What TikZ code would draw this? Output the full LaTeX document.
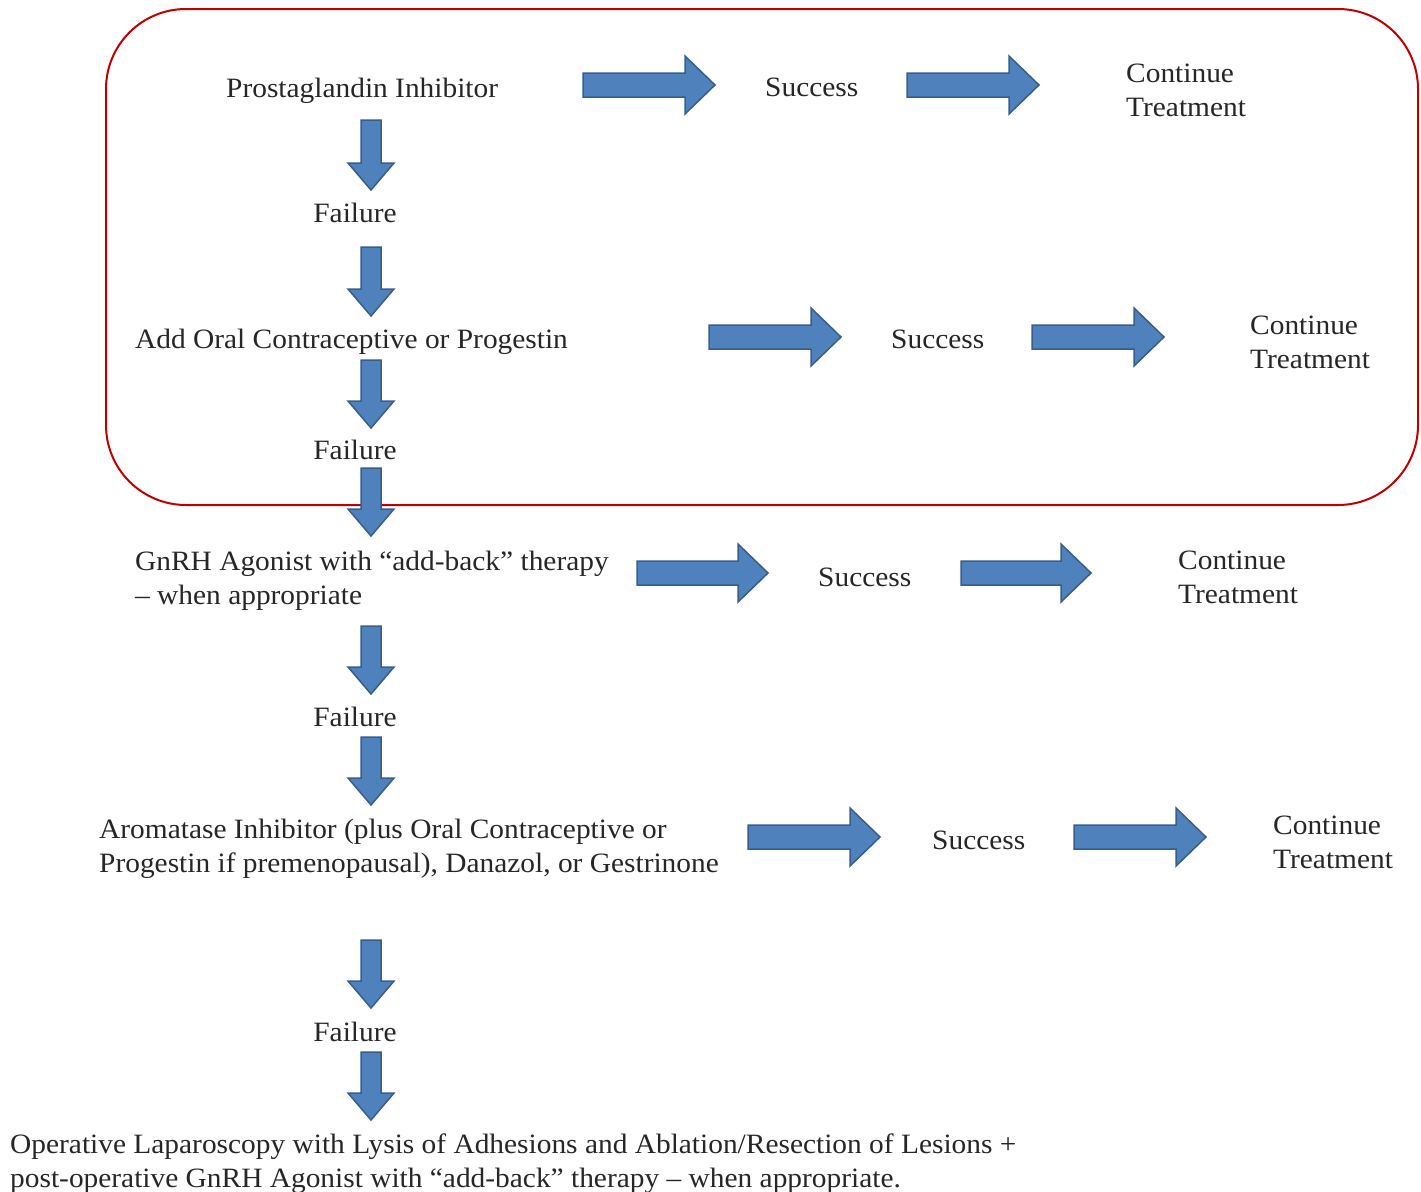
\documentclass[tikz,border=0pt]{standalone}
\usepackage{fontspec}
\setmainfont{Liberation Serif}[FakeStretch=1.05]
\definecolor{arrfill}{HTML}{4F81BD}
\definecolor{arrline}{HTML}{385D8A}
\definecolor{boxred}{HTML}{C00000}
\definecolor{txt}{HTML}{262626}
\tikzset{
  blockarr/.style={draw=arrline, fill=arrfill, line width=1.5pt, line join=miter},
  lbl/.style={anchor=base west, inner sep=0pt, align=left, text=txt,
    font=\fontsize{28}{34}\selectfont},
  fail/.style={anchor=base, inner sep=0pt, text=txt,
    font=\fontsize{28}{34}\selectfont},
}
% horizontal block arrow: x1, x2, y
\newcommand\hblock[3]{%
  \draw[blockarr] (#1,{#3-12}) -- ({#2-30},{#3-12}) -- ({#2-30},{#3-29}) -- (#2,#3)
    -- ({#2-30},{#3+29}) -- ({#2-30},{#3+12}) -- (#1,{#3+12}) -- cycle;}
% vertical block arrow: x, y1, y2
\newcommand\vblock[3]{%
  \draw[blockarr] ({#1-10},#2) -- ({#1-10},{#3-27}) -- ({#1-23},{#3-27}) -- (#1,#3)
    -- ({#1+23},{#3-27}) -- ({#1+10},{#3-27}) -- ({#1+10},#2) -- cycle;}
\begin{document}
\begin{tikzpicture}[x=1pt,y=-1pt]
\useasboundingbox (0,0) rectangle (1421,1191);
% red rounded frame
\draw[boxred, line width=2pt, rounded corners=80pt] (106,9) rectangle (1418,505);

% row 1
\node[lbl] (pi) at (226,97) {Prostaglandin Inhibitor};
\hblock{583}{715}{85}
\node[lbl] (s1) at (765,96) {Success};
\hblock{907}{1039}{85}
\node[lbl] (c1) at (1126,116) {Continue\\Treatment};

\vblock{371}{120}{190}
\node[fail] (f1) at (355,222) {Failure};
\vblock{371}{247}{316}

% row 2
\node[lbl] (oc) at (135,348) {Add Oral Contraceptive or Progestin};
\hblock{709}{841}{337}
\node[lbl] (s2) at (891,348) {Success};
\hblock{1032}{1164}{337}
\node[lbl] (c2) at (1250,368) {Continue\\Treatment};

\vblock{371}{360}{428}
\node[fail] (f2) at (355,459) {Failure};
\vblock{371}{468}{536}

% row 3
\node[lbl] (gn) at (135,604) {GnRH Agonist with “add-back” therapy\\– when appropriate};
\hblock{637}{768}{573}
\node[lbl] (s3) at (818,586) {Success};
\hblock{961}{1091}{573}
\node[lbl] (c3) at (1178,603) {Continue\\Treatment};

\vblock{371}{626}{694}
\node[fail] (f3) at (355,726) {Failure};
\vblock{371}{737}{805}

% row 4
\node[lbl] (ai) at (99,872) {Aromatase Inhibitor (plus Oral Contraceptive or\\Progestin if premenopausal), Danazol, or Gestrinone};
\hblock{748}{880}{837}
\node[lbl] (s4) at (932,849) {Success};
\hblock{1074}{1206}{837}
\node[lbl] (c4) at (1273,868) {Continue\\Treatment};

\vblock{371}{940}{1008}
\node[fail] (f4) at (355,1041) {Failure};
\vblock{371}{1052}{1120}

% final
\node[lbl] (op) at (10,1187) {Operative Laparoscopy with Lysis of Adhesions and Ablation/Resection of Lesions +\\post-operative GnRH Agonist with “add-back” therapy – when appropriate.};
\end{tikzpicture}
\end{document}
